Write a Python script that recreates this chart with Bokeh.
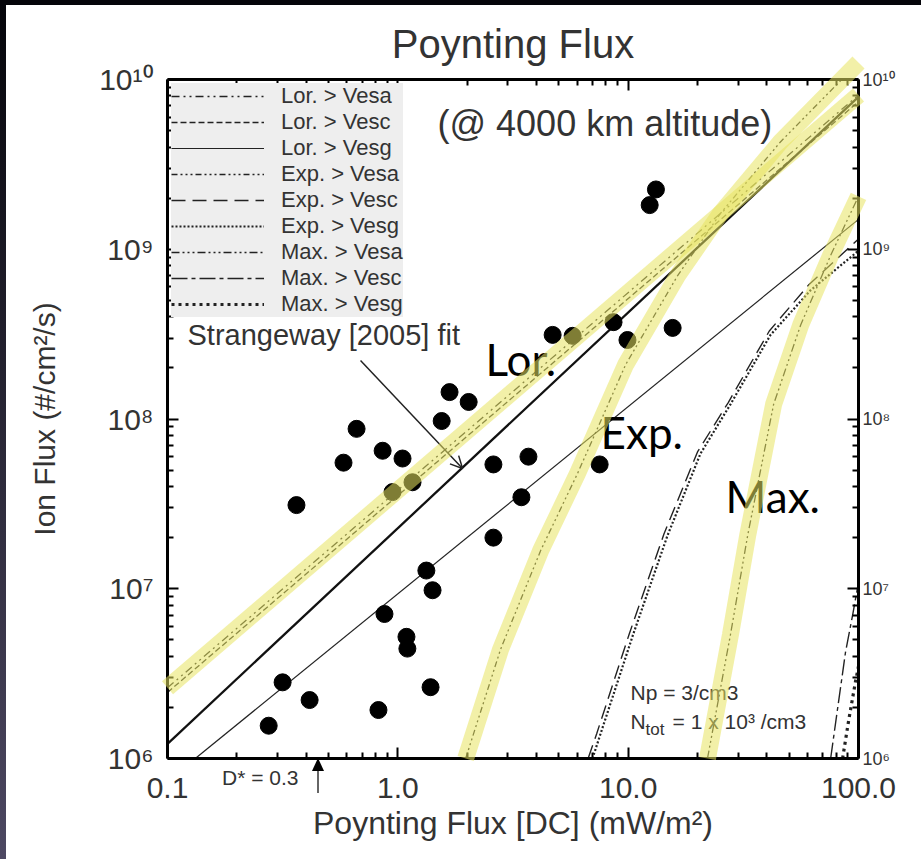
from bokeh.plotting import figure
from bokeh.models import (LogAxis, FixedTicker, Label, Arrow, OpenHead,
                          Legend, LegendItem, Range1d, Div)
from bokeh.layouts import column, row
from bokeh.embed import file_html
from bokeh.resources import INLINE

# ---------------- data ----------------
obs_flux = [0.275, 0.316, 0.414, 0.363, 0.581, 0.662, 0.859, 1.048, 0.948, 1.158,
            0.875, 0.824, 1.09, 1.10, 1.33, 1.415, 1.387, 1.55, 1.677, 2.03,
            2.60, 2.60, 3.44, 3.69, 4.70, 5.74, 8.64, 9.93, 7.52, 12.4, 13.2, 15.6]
obs_ion = [1.56e6, 2.81e6, 2.21e6, 3.11e7, 5.53e7, 8.75e7, 6.5e7, 5.85e7, 3.71e7, 4.24e7,
           7.1e6, 1.93e6, 5.21e6, 4.44e6, 1.28e7, 9.8e6, 2.63e6, 9.73e7, 1.44e8, 1.26e8,
           5.4e7, 2.0e7, 3.46e7, 6.0e7, 3.13e8, 3.09e8, 3.72e8, 2.92e8, 5.4e7, 1.82e9, 2.25e9, 3.44e8]

strangeway_x = [0.1, 100.0]
strangeway_y = [1.22e6, 7.9e9]

lor_vesa_x = [0.1, 100.0]
lor_vesa_y = [2.61e6, 8.1e9]
lor_vesc_x = [0.1, 100.0]
lor_vesc_y = [2.45e6, 7.4e9]
lor_vesg_x = [0.132, 100.0]
lor_vesg_y = [1.0e6, 1.5e9]

exp_vesa_x = [1.97, 2.79, 4.17, 6.03, 9.75, 16.4, 25.2, 45.9, 100.0]
exp_vesa_y = [1.0e6, 4.38e6, 1.68e7, 4.78e7, 2.09e8, 7.0e8, 1.63e9, 4.3e9, 1.26e10]
exp_vesc_x = [6.7, 7.3, 10.1, 14.3, 20.0, 27.2, 41.0, 61.0, 100.0]
exp_vesc_y = [1.0e6, 1.4e6, 5.4e6, 2.1e7, 6.4e7, 1.25e8, 3.3e8, 6.2e8, 1.15e9]
exp_vesg_x = [7.0, 7.59, 10.5, 14.8, 20.6, 27.8, 41.5, 61.9, 100.0]
exp_vesg_y = [1.0e6, 1.4e6, 5.36e6, 2.05e7, 6.25e7, 1.22e8, 3.13e8, 5.73e8, 9.8e8]

max_vesa_x = [22.1, 27.8, 33.0, 42.8, 56.1, 75.7, 100.0]
max_vesa_y = [1.0e6, 5.36e6, 2.05e7, 1.22e8, 3.58e8, 9.2e8, 2.05e9]
max_vesc_x = [75.7, 82.0, 87.9, 94.3, 100.0]
max_vesc_y = [1.0e6, 2.18e6, 4.26e6, 7.0e6, 1.09e7]
max_vesg_x = [85.3, 90.6, 97.1, 100.0]
max_vesg_y = [1.0e6, 1.67e6, 2.85e6, 3.49e6]

x_ticks = [0.1, 1.0, 10.0, 100.0]
x_tick_labels = ["0.1", "1.0", "10.0", "100.0"]
y_ticks = [1e6, 1e7, 1e8, 1e9, 1e10]
y_tick_labels = ["10\u2076", "10\u2077", "10\u2078", "10\u2079", "10\u00b9\u2070"]

# ---------------- helpers for annotation placement ----------------
X0, XDEC = 161.0, 230.3   # frame-left in figure px, px per decade
Y0, YDEC = 753.0, 171.5   # frame-bottom in figure px, px per decade


def px2x(px):
    return 10 ** ((px - 6 - X0) / XDEC - 1)


def py2y(py):
    return 10 ** (6 + (Y0 - (py - 5)) / YDEC)


FONT = "Liberation Sans"
TXT = "#333333"

p = figure(width=915, height=854, x_axis_type="log", y_axis_type="log",
           x_range=Range1d(0.1, 100), y_range=Range1d(1e6, 1e10),
           output_backend="svg", toolbar_location=None,
           min_border_left=161, min_border_right=63, min_border_top=67, min_border_bottom=101)
p.outline_line_color = None
p.xgrid.visible = False
p.ygrid.visible = False
p.background_fill_color = "white"
p.border_fill_color = "white"

bottom_axis = p.below[0]
left_axis = p.left[0]

p.title.text = "Poynting Flux"
p.title.align = "center"
p.title.text_font = FONT
p.title.text_font_size = "40px"
p.title.text_font_style = "normal"
p.title.text_color = TXT
p.title.standoff = 28

xminor = [m * d for d in [0.1, 1, 10] for m in range(2, 10)]
yminor = [m * d for d in [1e6, 1e7, 1e8, 1e9] for m in range(2, 10)]
xt = FixedTicker(ticks=x_ticks, minor_ticks=xminor)
yt = FixedTicker(ticks=y_ticks, minor_ticks=yminor)

top_axis = LogAxis(ticker=xt)
right_axis = LogAxis(ticker=yt)
p.add_layout(top_axis, "above")
p.add_layout(right_axis, "right")

bottom_axis.ticker = xt
left_axis.ticker = yt

for ax in [bottom_axis, left_axis, top_axis, right_axis]:
    ax.axis_line_width = 3
    ax.axis_line_color = "black"
    ax.major_tick_in = 11
    ax.major_tick_out = 0
    ax.minor_tick_in = 6
    ax.minor_tick_out = 0
    ax.major_tick_line_width = 2
    ax.minor_tick_line_width = 2
    ax.major_label_text_font = FONT
    ax.major_label_text_color = TXT

bottom_axis.major_label_overrides = dict(zip(x_ticks, x_tick_labels))
bottom_axis.major_label_text_font_size = "30px"
bottom_axis.major_label_standoff = 19
bottom_axis.axis_label = "Poynting Flux [DC] (mW/m\u00b2)"
bottom_axis.axis_label_text_font = FONT
bottom_axis.axis_label_text_font_size = "32px"
bottom_axis.axis_label_text_font_style = "normal"
bottom_axis.axis_label_text_color = TXT
bottom_axis.axis_label_standoff = 4

left_axis.major_label_overrides = dict(zip(y_ticks, y_tick_labels))
left_axis.major_label_text_font_size = "30px"
left_axis.major_label_standoff = 14
left_axis.axis_label = "Ion Flux (#/cm\u00b2/s)"
left_axis.axis_label_text_font = FONT
left_axis.axis_label_text_font_size = "30px"
left_axis.axis_label_text_font_style = "normal"
left_axis.axis_label_text_color = TXT
left_axis.axis_label_standoff = 35

top_axis.major_label_overrides = {t: "" for t in x_ticks}
top_axis.major_label_standoff = 0
right_axis.major_label_overrides = dict(zip(y_ticks, y_tick_labels))
right_axis.major_label_text_font_size = "18px"
right_axis.major_label_standoff = 4

LC = "#222222"
r_lor_vesa = p.line(lor_vesa_x, lor_vesa_y, line_color=LC, line_width=1.3, line_dash="8 4 2 4 2 4")
r_lor_vesc = p.line(lor_vesc_x, lor_vesc_y, line_color=LC, line_width=1.3, line_dash="6 3")
r_lor_vesg = p.line(lor_vesg_x, lor_vesg_y, line_color=LC, line_width=1.2)
r_exp_vesa = p.line(exp_vesa_x, exp_vesa_y, line_color=LC, line_width=1.3, line_dash="6 3 2 3 2 3 2 3")
r_exp_vesc = p.line(exp_vesc_x, exp_vesc_y, line_color=LC, line_width=1.4, line_dash="14 7")
r_exp_vesg = p.line(exp_vesg_x, exp_vesg_y, line_color=LC, line_width=2.2, line_dash="2 2")
r_max_vesa = p.line(max_vesa_x, max_vesa_y, line_color=LC, line_width=1.3, line_dash="8 3 2 3 2 3 2 3")
r_max_vesc = p.line(max_vesc_x, max_vesc_y, line_color=LC, line_width=1.4, line_dash="16 4 4 4")
r_max_vesg = p.line(max_vesg_x, max_vesg_y, line_color=LC, line_width=3.2, line_dash="3 4")

p.line(strangeway_x, strangeway_y, line_color="#111111", line_width=2.3)
p.scatter(obs_flux, obs_ion, size=17, color="black")

# yellow highlight bands
HL = "#e8e460"
for bx, by in [(lor_vesa_x, lor_vesa_y), (exp_vesa_x, exp_vesa_y), (max_vesa_x, max_vesa_y)]:
    p.line(bx, by, line_color=HL, line_alpha=0.55, line_width=17, level="overlay")

items = [
    LegendItem(label="Lor. > Vesa", renderers=[r_lor_vesa]),
    LegendItem(label="Lor. > Vesc", renderers=[r_lor_vesc]),
    LegendItem(label="Lor. > Vesg", renderers=[r_lor_vesg]),
    LegendItem(label="Exp. > Vesa", renderers=[r_exp_vesa]),
    LegendItem(label="Exp. > Vesc", renderers=[r_exp_vesc]),
    LegendItem(label="Exp. > Vesg", renderers=[r_exp_vesg]),
    LegendItem(label="Max. > Vesa", renderers=[r_max_vesa]),
    LegendItem(label="Max. > Vesc", renderers=[r_max_vesc]),
    LegendItem(label="Max. > Vesg", renderers=[r_max_vesg]),
]
legend = Legend(items=items, location="top_left", margin=4, padding=3, spacing=0,
                glyph_width=93, glyph_height=26, label_height=26, label_standoff=17,
                label_text_font=FONT, label_text_font_size="22px", label_text_color=TXT,
                label_text_line_height=1.0,
                background_fill_color="#eeeeee", background_fill_alpha=1.0,
                border_line_color=None)
p.add_layout(legend)


def lab(text, px, py, size, font=FONT, color=TXT):
    p.add_layout(Label(x=px2x(px), y=py2y(py), text=text, text_font=font,
                       text_font_size=size, text_color=color, text_align="left",
                       text_baseline="middle"))


lab("(@ 4000 km altitude)", 437, 116, "36px")
lab("Strangeway [2005] fit", 187, 330, "29px")
lab("Lor.", 485, 354, "44px", font="Lato", color="black")
lab("Exp.", 600, 428, "44px", font="Lato", color="black")
lab("Max.", 725, 493, "44px", font="Lato", color="black")
lab("Np = 3/cm3", 630, 691, "21px")
lab("N", 630, 721, "21px")
lab("tot", 645, 729, "17px")
lab("= 1 x 10\u00b3 /cm3", 672, 721, "21px")

p.add_layout(Arrow(end=OpenHead(size=12, line_width=1.5, line_color="#222222"),
                   x_start=px2x(360), y_start=py2y(356), x_end=px2x(462), y_end=py2y(465),
                   line_width=1.5, line_color="#222222"))

# D* marker below the axis (outside the plot frame) as a small positioned overlay
dstar_html = (
    '<div style="position:relative;width:130px;height:46px;">'
    '<span style="position:absolute;left:22px;top:15px;font-family:\'Liberation Sans\';'
    'font-size:21px;line-height:24px;color:#333333;white-space:nowrap;">D* = 0.3</span>'
    '<svg style="position:absolute;left:108px;top:7px;" width="20" height="38">'
    '<polygon points="10,0 4,13 16,13" fill="black"/>'
    '<line x1="10" y1="13" x2="10" y2="35" stroke="#333333" stroke-width="1.5"/>'
    '</svg></div>'
)
dstar = Div(text=dstar_html, width=130, height=46, margin=0,
            styles={"position": "absolute", "left": "200px", "top": "751px", "z-index": "20"})

top_bar = Div(text="", width=921, height=5, margin=0,
              styles={"position": "absolute", "left": "0px", "top": "0px",
                      "background": "#05050a", "z-index": "30"})
top_strip = Div(width=921, height=5, margin=0)
left_strip = Div(width=6, height=854, margin=0,
                 styles={"background": "linear-gradient(#05050a, #4d4862)"})
layout = column(top_strip, row(left_strip, p, spacing=0), dstar, top_bar, spacing=0)

open("out.html", "w").write(file_html(layout, INLINE))
